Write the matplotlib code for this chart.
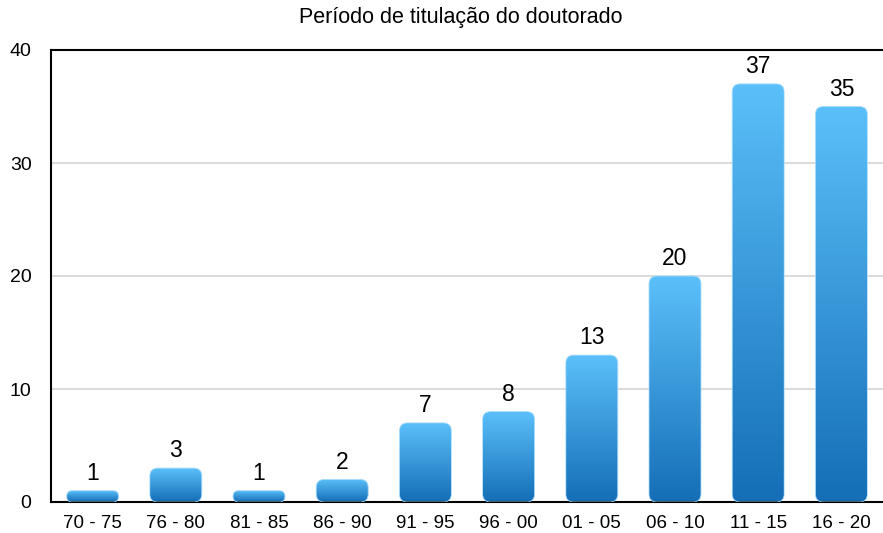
import numpy as np
import matplotlib.pyplot as plt
from matplotlib.patches import FancyBboxPatch
from matplotlib.colors import LinearSegmentedColormap

plt.rcParams['font.family'] = ['Liberation Sans', 'DejaVu Sans']

# Dados
periodos = ['70 - 75', '76 - 80', '81 - 85', '86 - 90', '91 - 95',
            '96 - 00', '01 - 05', '06 - 10', '11 - 15', '16 - 20']
quantidade = [1, 3, 1, 2, 7, 8, 13, 20, 37, 35]

W, H = 883, 533
fig = plt.figure(figsize=(W / 100, H / 100), dpi=100)
ax = fig.add_axes([51 / W, 1 - 502 / H, 832 / W, 452 / H])

ax.set_xlim(-0.5, len(periodos) - 0.5)
ax.set_ylim(0, 40)

# escala em pixels para arredondar os cantos
px_x = 832 / len(periodos)   # px por unidade em x
px_y = 452 / 40              # px por unidade em y
aspecto = px_x / px_y

cmap = LinearSegmentedColormap.from_list('azul', ['#156eb6', '#5bc0fa'])
gradiente = np.linspace(0, 1, 256).reshape(-1, 1)

largura = 0.625
for i, v in enumerate(quantidade):
    x0 = i - largura / 2
    raio_px = min(8, v * px_y / 2, largura * px_x / 2)
    caixa = FancyBboxPatch((x0, 0), largura, v,
                           boxstyle=f"round,pad=0,rounding_size={raio_px / px_x}",
                           mutation_aspect=aspecto,
                           facecolor='none', edgecolor='#a8dcfb', lw=0.6, zorder=3)
    ax.add_patch(caixa)
    img = ax.imshow(gradiente, cmap=cmap, origin='lower', aspect='auto',
                    extent=(x0, x0 + largura, 0, v), zorder=2)
    img.set_clip_path(caixa)
    ax.text(i, v + 0.5, str(v), ha='center', va='bottom', fontsize=16.5)

ax.set_xlim(-0.5, len(periodos) - 0.5)
ax.set_ylim(0, 40)
ax.set_xticks(range(len(periodos)))
ax.set_xticklabels(periodos, fontsize=13.5)
ax.set_yticks([0, 10, 20, 30, 40])
ax.set_yticklabels(['0', '10', '20', '30', '40'], fontsize=14)
ax.tick_params(axis='both', length=0)
ax.tick_params(axis='x', pad=9)
ax.tick_params(axis='y', pad=14)

for y in [10, 20, 30]:
    ax.axhline(y, color='#d4d4d4', lw=1.2, zorder=1)

for lado in ['left', 'bottom', 'top']:
    ax.spines[lado].set_linewidth(1.5)
    ax.spines[lado].set_color('black')
ax.spines['right'].set_visible(False)

fig.text(461 / W, 1 - 18 / H, 'Período de titulação do doutorado',
         fontsize=15.5, ha='center', va='center')

plt.savefig('out.png', dpi=100)
